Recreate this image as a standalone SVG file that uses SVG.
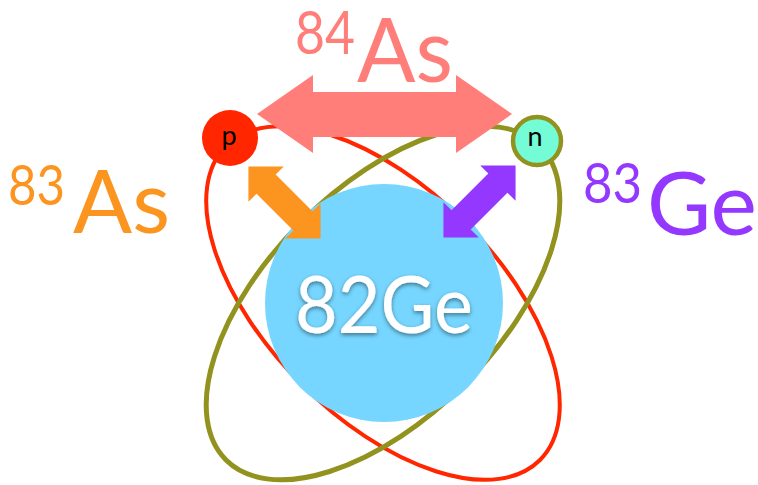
<svg xmlns="http://www.w3.org/2000/svg" width="758" height="485" viewBox="0 0 758 485">
<style>
.lbl{font-family:Lato,"Open Sans","DejaVu Sans",sans-serif;}
.orbit{fill:none;}
</style>
<defs>
<filter id="sh" x="-20%" y="-20%" width="140%" height="150%">
<feDropShadow dx="0" dy="2" stdDeviation="2" flood-color="#000" flood-opacity="0.45"/>
</filter>
<polygon id="dbl" points="-51,0 -26,-25 -26,-13.5 26,-13.5 26,-25 51,0 26,25 26,13.5 -26,13.5 -26,25"/>
</defs>
<rect width="758" height="485" fill="#fff"/>
<g id="orbits">
<ellipse class="orbit" cx="383" cy="303" rx="222" ry="115" stroke="#FF2600" stroke-width="4" transform="rotate(45 383 303)"/>
<ellipse class="orbit" cx="383" cy="303" rx="222" ry="115" stroke="#92921E" stroke-width="5" transform="rotate(-45 383 303)"/>
</g>
<g id="nucleus">
<circle cx="384" cy="303" r="119" fill="#76D6FF"/>
<text class="lbl" x="295" y="333" font-size="80" fill="#fff" textLength="178" lengthAdjust="spacingAndGlyphs" filter="url(#sh)">82Ge</text>
</g>
<g id="connectors">
<polygon fill="#FF7E79" points="257,114 313,75 313,92 456,92 456,75 512,114 456,153 456,137 313,137 313,153"/>
<use href="#dbl" fill="#FC9420" transform="translate(284.5,202.5) rotate(45)"/>
<use href="#dbl" fill="#9437FF" transform="translate(479.5,201.5) rotate(-45)"/>
</g>
<g id="proton">
<circle cx="230" cy="138" r="28" fill="#FF2600"/>
<text class="lbl" x="229" y="145" font-size="27" text-anchor="middle" fill="#000">p</text>
</g>
<g id="neutron">
<circle cx="537" cy="141" r="24" fill="#73FCD6" stroke="#92921E" stroke-width="4.5"/>
<text class="lbl" x="535" y="146" font-size="27" text-anchor="middle" fill="#000">n</text>
</g>
<g id="label-84As" fill="#FF7E79">
<text class="lbl"><tspan x="295" y="54" font-size="60" textLength="60" lengthAdjust="spacingAndGlyphs">84</tspan><tspan x="357" y="82" font-size="90" textLength="96" lengthAdjust="spacingAndGlyphs">As</tspan></text>
</g>
<g id="label-83As" fill="#FC9420">
<text class="lbl"><tspan x="8" y="205" font-size="56" textLength="57" lengthAdjust="spacingAndGlyphs">83</tspan><tspan x="73" y="233" font-size="88" textLength="97" lengthAdjust="spacingAndGlyphs">As</tspan></text>
</g>
<g id="label-83Ge" fill="#9437FF">
<text class="lbl"><tspan x="583" y="203" font-size="56" textLength="59" lengthAdjust="spacingAndGlyphs">83</tspan><tspan x="647" y="235" font-size="88" textLength="110" lengthAdjust="spacingAndGlyphs">Ge</tspan></text>
</g>
</svg>
